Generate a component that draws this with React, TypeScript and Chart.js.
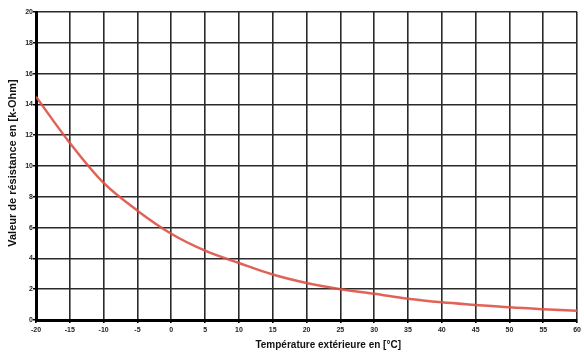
import React, { useEffect, useRef } from "react";
import { Chart, registerables } from "chart.js";

Chart.register(...registerables);

const temperatures = [-20, -15, -10, -5, 0, 5, 10, 15, 20, 25, 30, 35, 40, 45, 50, 55, 60];
const resistance = [14.5, 11.5, 8.9, 7.1, 5.6, 4.5, 3.7, 2.95, 2.4, 2.0, 1.7, 1.38, 1.15, 0.98, 0.82, 0.7, 0.6];
const xTitle = "Température extérieure en [°C]";
const yTitle = "Valeur de résistance en [k-Ohm]";

const titlePlugin = {
  id: "axisTitles",
  afterDraw(chart: any) {
    const { ctx, chartArea } = chart;
    ctx.save();
    ctx.fillStyle = "#111";
    ctx.textAlign = "center";
    ctx.textBaseline = "middle";
    ctx.font = "bold 10px 'Liberation Sans', Arial, sans-serif";
    ctx.fillText(xTitle, chartArea.left + (chartArea.right - chartArea.left) * 0.54, 345);
    ctx.translate(13, (chartArea.top + chartArea.bottom) / 2 - 3);
    ctx.rotate(-Math.PI / 2);
    ctx.font = "bold 11px 'Liberation Sans', Arial, sans-serif";
    ctx.fillText(yTitle, 0, 0);
    ctx.restore();
  },
};

export default function App() {
  const ref = useRef<HTMLCanvasElement>(null);
  useEffect(() => {
    if (!ref.current) return;
    const chart = new Chart(ref.current, {
      type: "line",
      data: {
        datasets: [
          {
            data: temperatures.map((t, i) => ({ x: t, y: resistance[i] })),
            borderColor: "rgba(222,82,70,0.9)",
            borderWidth: 2.5,
            pointRadius: 0,
            tension: 0.35,
            fill: false,
          },
        ],
      },
      plugins: [titlePlugin],
      options: {
        animation: false,
        responsive: false,
        maintainAspectRatio: false,
        layout: { padding: { top: 12, right: 6, left: 0, bottom: 0 } },
        plugins: { legend: { display: false }, tooltip: { enabled: false } },
        scales: {
          x: {
            type: "linear",
            min: -20,
            max: 60,
            ticks: {
              stepSize: 5,
              color: "#222",
              font: { family: "Liberation Sans", size: 7, weight: "bold" },
              padding: 3,
              maxRotation: 0,
            },
            grid: { color: "#2a2a2a", lineWidth: 1.6, tickLength: 3, tickColor: "#000" },
            border: { color: "#000", width: 3 },
            afterFit: (s: any) => {
              s.height = 33;
            },
          },
          y: {
            min: 0,
            max: 20,
            ticks: {
              stepSize: 2,
              color: "#222",
              font: { family: "Liberation Sans", size: 7, weight: "bold" },
              padding: 0,
            },
            grid: { color: "#2a2a2a", lineWidth: 1.6, tickLength: 3, tickColor: "#000" },
            border: { color: "#000", width: 3 },
            afterFit: (s: any) => {
              s.width = 36;
            },
          },
        },
      },
    });
    return () => chart.destroy();
  }, []);
  return (
    <div style={{ position: "fixed", left: 0, top: 0, width: 584, height: 353, background: "#fff" }}>
      <canvas ref={ref} width={584} height={353} style={{ width: 584, height: 353 }} />
    </div>
  );
}
